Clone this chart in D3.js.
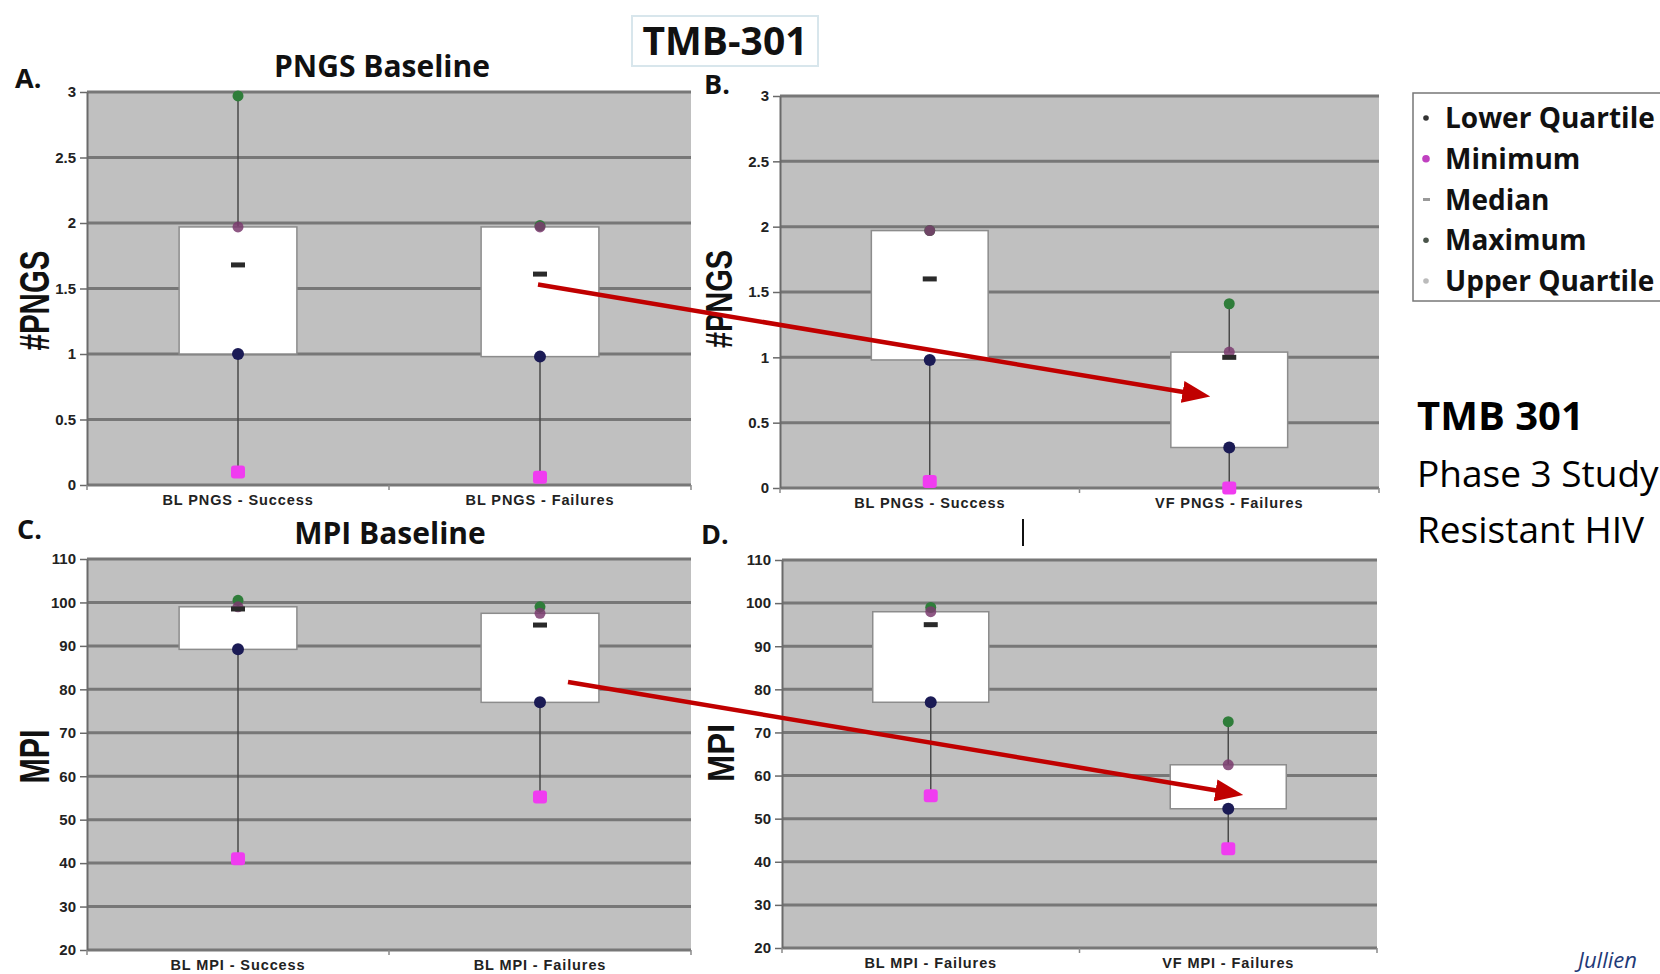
<!DOCTYPE html>
<html>
<head>
<meta charset="utf-8">
<script src="https://cdn.jsdelivr.net/npm/d3@7"></script>
<style>
  html, body { margin: 0; padding: 0; background: #fff; }
  svg { display: block; }
</style>
</head>
<body>
<div id="chart"></div>
<script>
// Categories for each of the four box plots
const catsA = ['BL PNGS - Success', 'BL PNGS - Failures'];
const catsB = ['BL PNGS - Success', 'VF PNGS - Failures'];
const catsC = ['BL MPI - Success', 'BL MPI - Failures'];
const catsD = ['BL MPI - Failures', 'VF MPI - Failures'];

// Five-number summaries
const minA = [0.1, 0.06], q1A = [1.0, 0.98], medA = [1.68, 1.61], q3A = [1.97, 1.97], maxA = [2.97, 1.98];
const minB = [0.05, 0.0], q1B = [0.98, 0.31], medB = [1.6, 1.0], q3B = [1.97, 1.04], maxB = [1.97, 1.41];
const minC = [41, 55.2], q1C = [89.2, 77], medC = [98.5, 94.8], q3C = [99, 97.5], maxC = [100.5, 99];
const minD = [55.3, 43], q1D = [77, 52.3], medD = [95, 56], q3D = [98, 62.5], maxD = [99, 72.5];

// Axis ticks
const pngsTicks = [0, 0.5, 1, 1.5, 2, 2.5, 3];
const mpiTicks = [20, 30, 40, 50, 60, 70, 80, 90, 100, 110];

// Legend entries
const legendLabels = ['Lower Quartile', 'Minimum', 'Median', 'Maximum', 'Upper Quartile'];

// Red arrows: from the baseline failures box to the virologic failure box
const arrowFromValues = [1.53, 81.7];
const arrowToValues = [0.70, 55.5];

const W = 1660, H = 974;
const svg = d3.select('#chart').append('svg')
    .attr('width', W)
    .attr('height', H)
    .attr('viewBox', `0 0 ${W} ${H}`);

svg.append('rect').attr('width', W).attr('height', H).attr('fill', '#fff');

const labelFont = '"Liberation Sans", Arial, sans-serif';
const titleFont = '"Open Sans", "Noto Sans", sans-serif';

const colors = {
    max: '#2f7d3a',
    q3: '#7a3b6e',
    q1: '#1b1b55',
    min: '#f03cf0',
    median: '#2a2a2a'
};

function drawPanel(cfg) {
    const { cats, mins, q1s, meds, q3s, maxs, ticks, box, yTitle, titleCenter, letter, letterPos } = cfg;
    const x = d3.scaleBand().domain(cats).range([box.left, box.right]);
    const y = d3.scaleLinear().domain(d3.extent(ticks)).range([box.bottom, box.top]);
    const g = svg.append('g');

    // plot background
    g.append('rect')
        .attr('x', box.left).attr('y', box.top)
        .attr('width', box.right - box.left)
        .attr('height', box.bottom - box.top)
        .attr('fill', '#c0c0c0');

    // gridlines
    g.selectAll('line.grid').data(ticks).join('line')
        .attr('class', 'grid')
        .attr('x1', box.left).attr('x2', box.right)
        .attr('y1', d => y(d)).attr('y2', d => y(d))
        .attr('stroke', '#777')
        .attr('stroke-width', 3);

    // y axis
    const yAxis = g.append('g')
        .attr('transform', `translate(${box.left},0)`)
        .call(d3.axisLeft(y).tickValues(ticks).tickSize(7).tickSizeOuter(0).tickPadding(4).tickFormat(d => d));
    yAxis.select('.domain').attr('stroke', '#6a6a6a').attr('stroke-width', 2);
    yAxis.selectAll('.tick line').attr('stroke', '#6a6a6a').attr('stroke-width', 1.5);
    yAxis.selectAll('.tick text')
        .attr('font-family', labelFont)
        .attr('font-weight', 'bold')
        .attr('font-size', 15)
        .attr('fill', '#222');

    // x axis (category labels)
    const xAxis = g.append('g')
        .attr('transform', `translate(0,${box.bottom})`)
        .call(d3.axisBottom(x).tickSize(0).tickPadding(10));
    xAxis.select('.domain').remove();
    xAxis.selectAll('.tick text')
        .attr('font-family', labelFont)
        .attr('font-weight', 'bold')
        .attr('font-size', 14.5)
        .attr('letter-spacing', 0.9)
        .attr('fill', '#222');

    // band boundary ticks on the category axis
    const bounds = d3.range(cats.length + 1).map(i => box.left + i * x.step());
    g.selectAll('line.btick').data(bounds).join('line')
        .attr('class', 'btick')
        .attr('x1', d => d).attr('x2', d => d)
        .attr('y1', box.bottom).attr('y2', box.bottom + 5)
        .attr('stroke', '#8a8a8a').attr('stroke-width', 1.5);

    const cx = i => x(cats[i]) + x.bandwidth() / 2;
    const boxW = x.bandwidth() * 0.39;

    // whiskers
    g.selectAll('line.whisker').data(cats).join('line')
        .attr('class', 'whisker')
        .attr('x1', (d, i) => cx(i)).attr('x2', (d, i) => cx(i))
        .attr('y1', (d, i) => y(mins[i])).attr('y2', (d, i) => y(maxs[i]))
        .attr('stroke', '#4a4a4a').attr('stroke-width', 1.5);

    // boxes (Q1..Q3)
    g.selectAll('rect.box').data(cats).join('rect')
        .attr('class', 'box')
        .attr('x', (d, i) => cx(i) - boxW / 2)
        .attr('y', (d, i) => y(q3s[i]))
        .attr('width', boxW)
        .attr('height', (d, i) => y(q1s[i]) - y(q3s[i]))
        .attr('fill', '#fff')
        .attr('stroke', '#8c8c8c')
        .attr('stroke-width', 1.5);

    // markers
    g.selectAll('circle.max').data(maxs).join('circle')
        .attr('cx', (d, i) => cx(i)).attr('cy', d => y(d)).attr('r', 5.5)
        .attr('fill', colors.max);
    g.selectAll('circle.q3').data(q3s).join('circle')
        .attr('cx', (d, i) => cx(i)).attr('cy', d => y(d)).attr('r', 5.5)
        .attr('fill', colors.q3).attr('opacity', 0.85);
    g.selectAll('circle.q1').data(q1s).join('circle')
        .attr('cx', (d, i) => cx(i)).attr('cy', d => y(d)).attr('r', 6)
        .attr('fill', colors.q1);
    g.selectAll('rect.min').data(mins).join('rect')
        .attr('x', (d, i) => cx(i) - 7).attr('y', d => y(d) - 6.5)
        .attr('width', 14).attr('height', 13).attr('rx', 3)
        .attr('fill', colors.min);
    g.selectAll('rect.med').data(meds).join('rect')
        .attr('x', (d, i) => cx(i) - 7).attr('y', d => y(d) - 2.5)
        .attr('width', 14).attr('height', 5)
        .attr('fill', colors.median);

    // y axis title (stretched look)
    const ty = (box.top + box.bottom) / 2 + cfg.yTitleDy;
    svg.append('text')
        .attr('transform', `translate(${cfg.yTitleX},${ty}) rotate(-90)`)
        .attr('text-anchor', 'middle')
        .attr('font-family', labelFont)
        .attr('font-weight', 'bold')
        .attr('font-size', cfg.yTitleSize)
        .attr('textLength', cfg.yTitleLen)
        .attr('lengthAdjust', 'spacingAndGlyphs')
        .attr('fill', '#111')
        .text(yTitle);

    // panel letter
    svg.append('text')
        .attr('x', letterPos[0]).attr('y', letterPos[1])
        .attr('font-family', titleFont)
        .attr('font-weight', 'bold')
        .attr('font-size', 27)
        .attr('fill', '#111')
        .text(letter);

    // panel title
    if (cfg.title) {
        svg.append('text')
            .attr('x', titleCenter[0]).attr('y', titleCenter[1])
            .attr('text-anchor', 'middle')
            .attr('font-family', titleFont)
            .attr('font-weight', 'bold')
            .attr('font-size', 30)
            .attr('fill', '#111')
            .text(cfg.title);
    }

    return { x, y, cx };
}

const pA = drawPanel({
    cats: catsA, mins: minA, q1s: q1A, meds: medA, q3s: q3A, maxs: maxA, ticks: pngsTicks,
    box: { left: 87, right: 691, top: 92, bottom: 485 },
    yTitle: '#PNGS', yTitleX: 49, yTitleDy: 12, yTitleLen: 100, yTitleSize: 42,
    letter: 'A.', letterPos: [15, 88],
    title: 'PNGS Baseline', titleCenter: [382, 77]
});
const pB = drawPanel({
    cats: catsB, mins: minB, q1s: q1B, meds: medB, q3s: q3B, maxs: maxB, ticks: pngsTicks,
    box: { left: 780, right: 1379, top: 96, bottom: 488 },
    yTitle: '#PNGS', yTitleX: 732, yTitleDy: 7, yTitleLen: 98, yTitleSize: 36,
    letter: 'B.', letterPos: [704, 94]
});
const pC = drawPanel({
    cats: catsC, mins: minC, q1s: q1C, meds: medC, q3s: q3C, maxs: maxC, ticks: mpiTicks,
    box: { left: 87, right: 691, top: 559, bottom: 950 },
    yTitle: 'MPI', yTitleX: 49, yTitleDy: 2, yTitleLen: 54, yTitleSize: 42,
    letter: 'C.', letterPos: [17, 539],
    title: 'MPI Baseline', titleCenter: [390, 544]
});
const pD = drawPanel({
    cats: catsD, mins: minD, q1s: q1D, meds: medD, q3s: q3D, maxs: maxD, ticks: mpiTicks,
    box: { left: 782, right: 1377, top: 560, bottom: 948 },
    yTitle: 'MPI', yTitleX: 734, yTitleDy: -1, yTitleLen: 58, yTitleSize: 36,
    letter: 'D.', letterPos: [701, 544]
});

// Red arrows
const defs = svg.append('defs');
defs.append('marker')
    .attr('id', 'arrowhead')
    .attr('markerUnits', 'userSpaceOnUse')
    .attr('markerWidth', 28).attr('markerHeight', 22)
    .attr('refX', 16).attr('refY', 11)
    .attr('orient', 'auto')
    .append('path')
    .attr('d', 'M0,0 L28,11 L0,22 Z')
    .attr('fill', '#c00000');

function drawArrow(from, to) {
    const dx = to[0] - from[0], dy = to[1] - from[1];
    const len = Math.hypot(dx, dy);
    const end = [to[0] - dx / len * 12, to[1] - dy / len * 12];
    svg.append('line')
        .attr('x1', from[0]).attr('y1', from[1])
        .attr('x2', end[0]).attr('y2', end[1])
        .attr('stroke', '#c00000')
        .attr('stroke-width', 4.5)
        .attr('marker-end', 'url(#arrowhead)');
}
drawArrow([pA.cx(1) - 2, pA.y(arrowFromValues[0])], [pB.cx(1) - 19, pB.y(arrowToValues[0])]);
drawArrow([pC.cx(1) + 28, pC.y(arrowFromValues[1])], [pD.cx(1) + 15, pD.y(arrowToValues[1])]);

// Small stray vertical line between panels B and D
svg.append('line')
    .attr('x1', 1023).attr('x2', 1023).attr('y1', 519).attr('y2', 546)
    .attr('stroke', '#111').attr('stroke-width', 2);

// Top title box
svg.append('rect')
    .attr('x', 632).attr('y', 16).attr('width', 186).attr('height', 50)
    .attr('fill', '#fff').attr('stroke', '#d8e6ec').attr('stroke-width', 2);
svg.append('text')
    .attr('x', 725).attr('y', 55)
    .attr('text-anchor', 'middle')
    .attr('font-family', titleFont)
    .attr('font-weight', 'bold')
    .attr('font-size', 39)
    .attr('fill', '#111')
    .text('TMB-301');

// Legend
const legend = svg.append('g');
legend.append('rect')
    .attr('x', 1413).attr('y', 93).attr('width', 260).attr('height', 208)
    .attr('fill', '#fff').attr('stroke', '#777').attr('stroke-width', 1.5);
const legendY = d3.scalePoint().domain(legendLabels).range([118, 281]);
const legendMarks = [
    { shape: 'dot', fill: '#333', r: 2.8 },
    { shape: 'dot', fill: '#c040c0', r: 3.8 },
    { shape: 'dash', fill: '#999' },
    { shape: 'dot', fill: '#4a544a', r: 2.8 },
    { shape: 'dot', fill: '#bbb', r: 2.8 }
];
legendLabels.forEach((lab, i) => {
    const yy = legendY(lab);
    const m = legendMarks[i];
    if (m.shape === 'dot') {
        legend.append('circle').attr('cx', 1426).attr('cy', yy).attr('r', m.r).attr('fill', m.fill);
    } else {
        legend.append('rect').attr('x', 1423).attr('y', yy - 1.5).attr('width', 7).attr('height', 3).attr('fill', m.fill);
    }
    legend.append('text')
        .attr('x', 1445).attr('y', yy + 10)
        .attr('font-family', titleFont)
        .attr('font-weight', 'bold')
        .attr('font-size', 28)
        .attr('fill', '#111')
        .text(lab);
});

// Side text
svg.append('text')
    .attr('x', 1417).attr('y', 430)
    .attr('font-family', titleFont).attr('font-weight', 'bold').attr('font-size', 40)
    .attr('fill', '#000')
    .text('TMB 301');
svg.append('text')
    .attr('x', 1417).attr('y', 487)
    .attr('font-family', titleFont).attr('font-size', 37)
    .attr('fill', '#000')
    .text('Phase 3 Study');
svg.append('text')
    .attr('x', 1417).attr('y', 543)
    .attr('font-family', titleFont).attr('font-size', 37)
    .attr('fill', '#000')
    .text('Resistant HIV');

svg.append('text')
    .attr('x', 1578).attr('y', 968)
    .attr('font-family', titleFont).attr('font-style', 'italic').attr('font-size', 22)
    .attr('fill', '#1f3a78')
    .text('Jullien');
</script>
</body>
</html>
